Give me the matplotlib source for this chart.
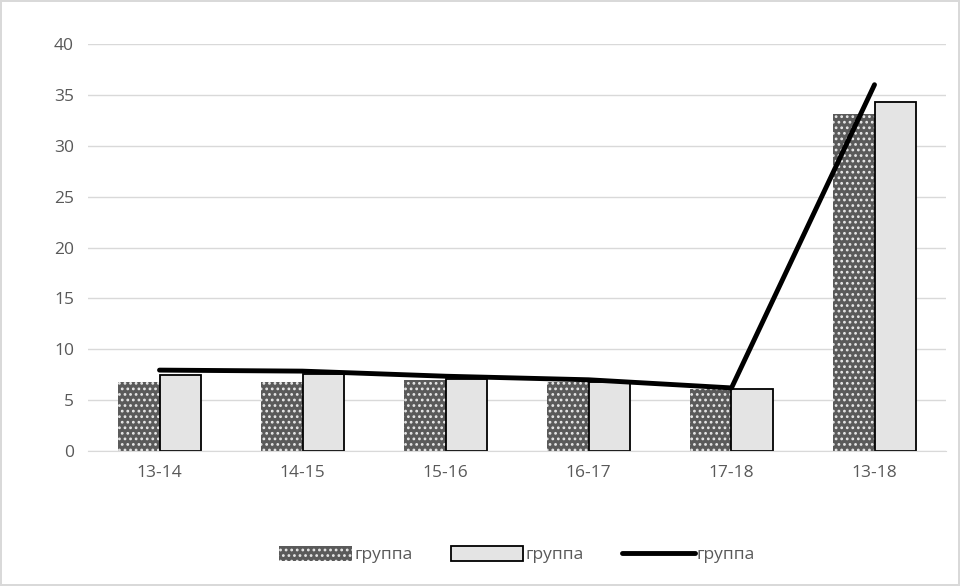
import matplotlib.pyplot as plt
import numpy as np

plt.rcParams['font.family'] = ['Open Sans', 'DejaVu Sans']
plt.rcParams['hatch.linewidth'] = 1.2

periods = ['13-14', '14-15', '15-16', '16-17', '17-18', '13-18']
group_a = [6.8, 6.8, 7.0, 6.8, 6.1, 33.1]
group_b = [7.5, 7.6, 7.1, 6.8, 6.1, 34.3]
group_c = [7.95, 7.85, 7.35, 7.0, 6.2, 36.0]
labels = ['группа', 'группа', 'группа']

fig = plt.figure(figsize=(9.6, 5.86), dpi=100)
fig.patch.set_edgecolor('#d9d9d9')
fig.patch.set_linewidth(1.5)
ax = fig.add_axes([88 / 960, 1 - 451 / 586, 858 / 960, 407 / 586])

x = np.arange(len(periods))
w = 0.29
b1 = ax.bar(x - w / 2, group_a, w, color='#5a5a5a', edgecolor='#e8e8e8', linewidth=0,
            hatch='...', label=labels[0], zorder=2)
b2 = ax.bar(x + w / 2, group_b, w, color='#e4e4e4', edgecolor='black', linewidth=1.3,
            label=labels[1], zorder=2)
ln, = ax.plot(x, group_c, color='black', linewidth=3.5, solid_capstyle='round',
              label=labels[2], zorder=3)

ax.set_xlim(-0.5, len(periods) - 0.5)
ax.set_ylim(0, 40)
ax.set_yticks(range(0, 41, 5))
ax.set_xticks(x)
ax.set_xticklabels(periods)
ax.grid(axis='y', color='#d9d9d9', linewidth=1)
ax.set_axisbelow(True)
for s in ['top', 'right', 'left']:
    ax.spines[s].set_visible(False)
ax.spines['bottom'].set_color('#d9d9d9')
ax.tick_params(length=0, labelsize=12.5, colors='#595959', pad=10)

ax.legend([b1, b2, ln], labels, loc='center', bbox_to_anchor=(0.5, -0.255),
          ncol=3, frameon=False, fontsize=12.5, labelcolor='#595959',
          handlelength=4.2, handleheight=0.9, handletextpad=0.1, columnspacing=2.2)

fig.savefig('out.png', dpi=100, edgecolor=fig.get_edgecolor())
